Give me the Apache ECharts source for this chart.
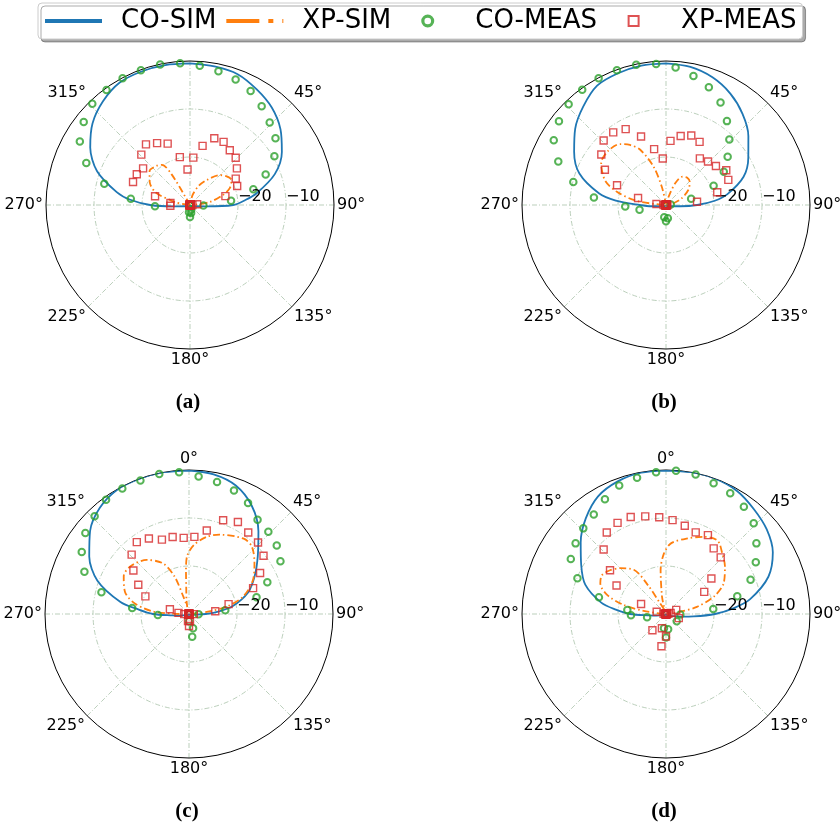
<!DOCTYPE html>
<html>
<head>
<meta charset="utf-8">
<script src="https://cdn.jsdelivr.net/npm/echarts@6/dist/echarts.min.js"></script>
<style>
html,body{margin:0;padding:0;background:#fff}
#chart{width:840px;height:827px}
</style>
</head>
<body>
<div id="chart"></div>
<script>
// 仿真方向图的角度 (deg)
const simAngles = [0,10,20,30,40,50,60,70,80,85,90,95,100,120,150,180,210,240,260,265,270,275,280,290,300,310,320,330,340,350];
const coSimA = [-0.5,-0.7,-1.0,-2.2,-3.5,-5.4,-7.9,-11.2,-15.9,-18.5,-21,-26.5,-28.5,-29.5,-29.8,-29.8,-29.8,-29.5,-28.5,-26.5,-21.7,-17.5,-14.5,-9.4,-6.0,-3.5,-1.8,-0.6,-0.4,-0.4];
const coSimB = [-0.5,-0.8,-1.7,-3.2,-5.2,-7.6,-10.2,-12.8,-17,-19.8,-23.5,-27,-28.5,-29.5,-29.8,-29.8,-29.8,-29.5,-28.5,-27,-24.5,-19.5,-15.8,-10.8,-7.9,-5.3,-3.2,-1.3,-0.8,-0.5];
const coSimC = [-0.1,-0.45,-1.5,-3.9,-7.5,-11.3,-14.2,-16.9,-20.8,-23.7,-26.5,-28.5,-29.2,-29.6,-29.8,-29.8,-29.8,-29.5,-28,-26.5,-22.5,-19.5,-15.5,-9.7,-6.0,-3.1,-1.1,-0.1,0,0];
const coSimD = [-0.1,0,0,-0.4,-1.5,-2.6,-4.3,-7.3,-12.2,-15.8,-19.8,-24.2,-26.8,-29.2,-29.8,-29.8,-29.8,-29.5,-28,-26.5,-22.5,-19.5,-16.3,-12.1,-9.6,-6.8,-4.0,-1.7,-0.6,-0.1];

// 交叉极化仿真
const xpSimAngA = [-90,-80,-76,-70,-60,-50,-40,-35,-31,-28,-20,-10,0,10,16,25,34,45,52,59,67,73,81,90];
const xpSimA = [-29.8,-27,-25.7,-22.4,-20.3,-19.0,-19.3,-19.8,-22.5,-29.5,-29.8,-29.9,-30,-29,-27.5,-25.5,-23.7,-21.2,-20.3,-19.9,-21,-22.8,-25.8,-29.5];
const xpSimAngB = [-90,-82,-75,-68,-57,-47,-37,-31,-25,-18,-13,-8,0,10,18,23,30,38,46,56,67,77,90];
const xpSimB = [-29.5,-23.8,-19.4,-16.3,-13.9,-13.5,-14.1,-15.4,-17.3,-21.6,-26.1,-29.5,-30,-29.7,-28,-25.1,-23.2,-22.8,-23.1,-24.4,-26.5,-28.4,-29.8];
const xpSimAngC = [-90,-86,-79,-71,-60,-51,-38,-27,-21,-18,-14,-10,-6,-4,-2,4,13,21,36,43,52,62,72,79,83,90];
const xpSimC = [-28,-22.5,-18.5,-15.9,-14.3,-14.25,-15.7,-18.2,-21.7,-26.2,-28.5,-27,-24.5,-21,-18,-15.6,-13.5,-12.3,-10.6,-10.8,-12.7,-14.9,-18.1,-22,-26.3,-29.5];
const xpSimAngD = [-90,-82,-78,-72,-65,-59,-52,-45,-36,-32,-29,-22,-16,-13,-7,-2,4,16,26,35,43,51,62,70,77,81,90];
const xpSimD = [-29.5,-25.3,-21,-17.1,-14.9,-14.4,-15.2,-16.5,-18.6,-23,-27.5,-29,-28.5,-26.3,-20.8,-17.4,-15.25,-13.6,-12.1,-11.3,-12.8,-14.2,-16.4,-19.4,-23.4,-27,-29.8];

// 测量角度
const measFront = [-92,-84,-76,-68,-60,-52,-44,-36,-28,-20,-12,-4,4,12,20,28,36,44,52,60,68,76,84,92];
const measBack = [100,108,116,124,132,140,148,156,164,172,180,188,196,204,212,220,228,236,244,252,260];

const coMeasA = [-22.7,-17.6,-11.6,-6.7,-3.5,-1.9,-0.7,-0.4,-0.1,-0.1,-0.1,-0.4,-0.9,-1.5,-2.2,-3.1,-4.6,-6.1,-7.4,-9.7,-13.0,-16.4,-21.4,-27.2];
const coMeasB = [-21.5,-14.9,-10.1,-5.8,-3.0,-1.7,-0.8,-0.3,-0.1,-0.1,-0.15,-0.55,-1.3,-2.5,-3.9,-5.8,-8.4,-11.0,-13.7,-16.1,-19.3,-24.6,-29.0,-30];
const coMeasC = [-23.5,-18.1,-11.2,-6.5,-4.2,-2.6,-1.7,-0.6,-0.4,-0.4,-0.2,-0.4,-1.3,-1.9,-2.6,-3.8,-5.7,-6.2,-6.8,-8.0,-12.4,-15.5,-22.4,-28];
const coMeasD = [-22.7,-21.9,-15.6,-10.1,-7.1,-6.1,-5.2,-4.4,-2.9,-1.5,-1.0,-0.4,-0.1,-0.3,-1.0,-1.5,-2.4,-3.7,-6.1,-8.4,-11.0,-14.7,-20.1,-27];
const coMeasBackA = [-30,-30,-30,-30,-30,-30,-30,-30,-29,-28.3,-27.5,-28.5,-30,-30,-30,-30,-30,-30,-30,-30,-30];
const coMeasBackB = [-30,-30,-30,-30,-30,-30,-30,-30,-30,-27.2,-26.6,-27.4,-30,-30,-30,-30,-30,-30,-30,-30,-24.4];
const coMeasBackC = [-30,-30,-30,-30,-30,-30,-30,-30,-26.9,-25.2,-28.5,-30,-30,-30,-30,-30,-30,-30,-30,-30,-30];
const coMeasBackD = [-30,-30,-30,-27.3,-30,-30,-30,-30,-30,-26.8,-25.1,-27,-30,-30,-30,-30,-30,-30,-30,-30,-26.0];

const xpMeasA = [-25.9,-25.9,-22.5,-17.2,-17.2,-17.6,-15.4,-14.4,-15.4,-16.4,-19.8,-22.6,-20.1,-17.4,-15.2,-15.1,-15.9,-16.3,-17.6,-19.0,-19.4,-22.4,-28.5,-29.5];
const xpMeasB = [-29.5,-28,-24.0,-19.0,-15.3,-12.9,-11.3,-11.3,-12.1,-14.8,-18.1,-20.3,-16.6,-15.3,-14.6,-15.1,-18.0,-17.4,-16.8,-15.5,-16.0,-19.0,-23.5,-29.7];
const xpMeasC = [-29,-27.8,-25.9,-20.2,-17.8,-15.3,-12.8,-11.5,-12.2,-13.5,-13.6,-14.1,-13.9,-12.2,-9.2,-8.3,-9.0,-9.3,-10.3,-12.9,-15.6,-21.5,-24.5,-29];
const xpMeasD = [-30,-29.5,-28,-24.4,-18.1,-15.2,-11.3,-9.0,-8.5,-8.5,-9.2,-9.8,-10.4,-11.2,-11.9,-11.4,-13.1,-13.6,-18.0,-20.8,-27.7,-29,-29.5,-30];
const xpMeasBackA = [-30,-30,-30,-30,-30,-30,-30,-30,-30,-30,-30,-30,-30,-30,-30,-30,-30,-30,-30,-30,-30];
const xpMeasBackB = [-30,-30,-30,-30,-30,-30,-30,-30,-30,-30,-30,-30,-30,-30,-30,-30,-30,-30,-30,-30,-30];
const xpMeasBackC = [-30,-30,-30,-30,-30,-30,-30,-30,-30,-28.5,-27.5,-28.5,-30,-30,-30,-30,-30,-30,-30,-30,-30];
const xpMeasBackD = [-30,-27.2,-30,-30,-30,-30,-30,-30,-30,-30,-25.3,-23.2,-26.9,-30,-30,-25.6,-30,-30,-30,-30,-30];

const captions = ['(a)', '(b)', '(c)', '(d)'];
const radialTicks = [-20, -10];

const plots = [
  {coSim: coSimA, xpAng: xpSimAngA, xpSim: xpSimA, coMeas: coMeasA, coBack: coMeasBackA, xpMeas: xpMeasA, xpBack: xpMeasBackA},
  {coSim: coSimB, xpAng: xpSimAngB, xpSim: xpSimB, coMeas: coMeasB, coBack: coMeasBackB, xpMeas: xpMeasB, xpBack: xpMeasBackB},
  {coSim: coSimC, xpAng: xpSimAngC, xpSim: xpSimC, coMeas: coMeasC, coBack: coMeasBackC, xpMeas: xpMeasC, xpBack: xpMeasBackC},
  {coSim: coSimD, xpAng: xpSimAngD, xpSim: xpSimD, coMeas: coMeasD, coBack: coMeasBackD, xpMeas: xpMeasD, xpBack: xpMeasBackD}
];

const centers = [[190, 205], [666, 205], [189, 614], [666, 614]];
const R = 144;
const gridColor = '#a9c3a9';
const gridType = [5, 2, 1, 2];

// 图例图标: 圆环 / 方框 (两端加空点, 让图标占满 57px 宽)
const ringIcon = 'path://M0,6.5L0,6.5M57,6.5L57,6.5M22,6.5A6.5,6.5 0 1,0 35,6.5A6.5,6.5 0 1,0 22,6.5Z M25.2,6.5A3.3,3.3 0 1,1 31.8,6.5A3.3,3.3 0 1,1 25.2,6.5Z';
const boxIcon = 'path://M0,0L0,0M57,13L57,13M22.5,0.5H34.5V12.5H22.5Z M24.5,2.5V10.5H32.5V2.5Z';

function toDeg(a) { return (a + 360) % 360; }
function pairs(angles, vals) {
  return angles.map(function (a, i) { return [vals[i], toDeg(a)]; });
}

const myChart = echarts.init(document.getElementById('chart'));

var polar = [], angleAxis = [], radiusAxis = [], series = [];
centers.forEach(function (c, i) {
  polar.push({center: c, radius: R});
  polar.push({center: c, radius: R});
  var hideTop = i < 2;
  angleAxis.push({
    polarIndex: 2 * i,
    type: 'value', min: 0, max: 360, interval: 45,
    startAngle: 90, clockwise: true,
    axisLine: {lineStyle: {color: '#000', width: 1}},
    axisTick: {show: false},
    axisLabel: {
      margin: 3, color: '#000', fontSize: 16, fontFamily: 'DejaVu Sans',
      formatter: function (v) {
        if (v === 360 || (hideTop && v === 0)) return '';
        return v + '°';
      }
    },
    splitLine: {lineStyle: {color: gridColor, width: 0.8, type: gridType}}
  });
  // 辅助极坐标: 只用来在 90° 方向画半径刻度
  angleAxis.push({polarIndex: 2 * i + 1, type: 'value', min: 0, max: 360, startAngle: 0, show: false});
  radiusAxis.push({
    polarIndex: 2 * i,
    type: 'value', min: -30, max: 0, interval: 10,
    axisLine: {show: false}, axisTick: {show: false}, axisLabel: {show: false},
    splitLine: {lineStyle: {color: [gridColor, gridColor, gridColor, 'rgba(0,0,0,0)'], width: 0.8, type: gridType}}
  });
  radiusAxis.push({
    polarIndex: 2 * i + 1,
    type: 'value', min: -30, max: 0, interval: 10, z: 5,
    axisLine: {show: false}, axisTick: {show: false}, splitLine: {show: false},
    axisLabel: {
      show: true, align: 'left', margin: 0, color: '#000', fontSize: 16, fontFamily: 'DejaVu Sans',
      formatter: function (v) {
        return radialTicks.indexOf(v) >= 0 ? '\u2212' + Math.abs(v) : '';
      }
    }
  });

  var p = plots[i];
  var co = pairs(simAngles, p.coSim);
  co.push([p.coSim[0], 360]);
  series.push({
    name: 'CO-SIM', type: 'line', coordinateSystem: 'polar', polarIndex: 2 * i,
    data: co, symbol: 'none', smooth: 0.3, z: 2,
    lineStyle: {color: '#1f77b4', width: 1.8}, itemStyle: {color: '#1f77b4'}
  });
  series.push({
    name: 'XP-SIM', type: 'line', coordinateSystem: 'polar', polarIndex: 2 * i,
    data: pairs(p.xpAng, p.xpSim), symbol: 'none', smooth: 0.3, z: 3,
    lineStyle: {color: '#ff7f0e', width: 1.8, type: [7, 3, 1.5, 3]}, itemStyle: {color: '#ff7f0e'}
  });
  series.push({
    name: 'CO-MEAS', type: 'scatter', coordinateSystem: 'polar', polarIndex: 2 * i,
    data: pairs(measFront, p.coMeas).concat(pairs(measBack, p.coBack)),
    symbol: 'circle', symbolSize: 6.5, z: 4,
    itemStyle: {color: 'rgba(0,0,0,0)', borderColor: '#2ca02c', borderWidth: 2}
  });
  series.push({
    name: 'XP-MEAS', type: 'scatter', coordinateSystem: 'polar', polarIndex: 2 * i,
    data: pairs(measFront, p.xpMeas).concat(pairs(measBack, p.xpBack)),
    symbol: 'rect', symbolSize: 7, z: 5,
    itemStyle: {color: 'rgba(0,0,0,0)', borderColor: '#d62728', borderWidth: 1.4}
  });
});

const option = {
  animation: false,
  backgroundColor: '#fff',
  textStyle: {fontFamily: 'DejaVu Sans'},
  polar: polar,
  angleAxis: angleAxis,
  radiusAxis: radiusAxis,
  legend: {
    left: 38, top: 3,
    padding: [5, 6, 5, 5],
    itemWidth: 57, itemHeight: 13, itemGap: 8,
    backgroundColor: '#fff', borderColor: '#cccccc', borderWidth: 1, borderRadius: 4,
    shadowColor: 'rgba(0,0,0,0.33)', shadowOffsetX: 3, shadowOffsetY: 3, shadowBlur: 0,
    selectedMode: false,
    textStyle: {fontSize: 26, color: '#000', fontFamily: 'DejaVu Sans', padding: [0, 0, 0, 14]},
    data: [
      {name: 'CO-SIM', lineStyle: {width: 4}, itemStyle: {opacity: 0}},
      {name: 'XP-SIM', lineStyle: {width: 4, type: [33, 9, 5, 9]}, itemStyle: {opacity: 0}},
      {name: 'CO-MEAS', icon: ringIcon, itemStyle: {color: '#2ca02c', borderWidth: 0}},
      {name: 'XP-MEAS', icon: boxIcon, itemStyle: {color: '#d62728', borderWidth: 0}}
    ]
  },
  graphic: captions.map(function (t, i) {
    return {
      type: 'text', x: centers[i][0] - 2, y: centers[i][1] + 198,
      style: {text: t, fill: '#000', fontFamily: 'Liberation Serif', fontWeight: 'bold', fontSize: 21, align: 'center', verticalAlign: 'middle'}
    };
  }),
  series: series
};

myChart.setOption(option);
window.addEventListener('resize', function () {
  myChart.resize();
});
</script>
</body>
</html>
